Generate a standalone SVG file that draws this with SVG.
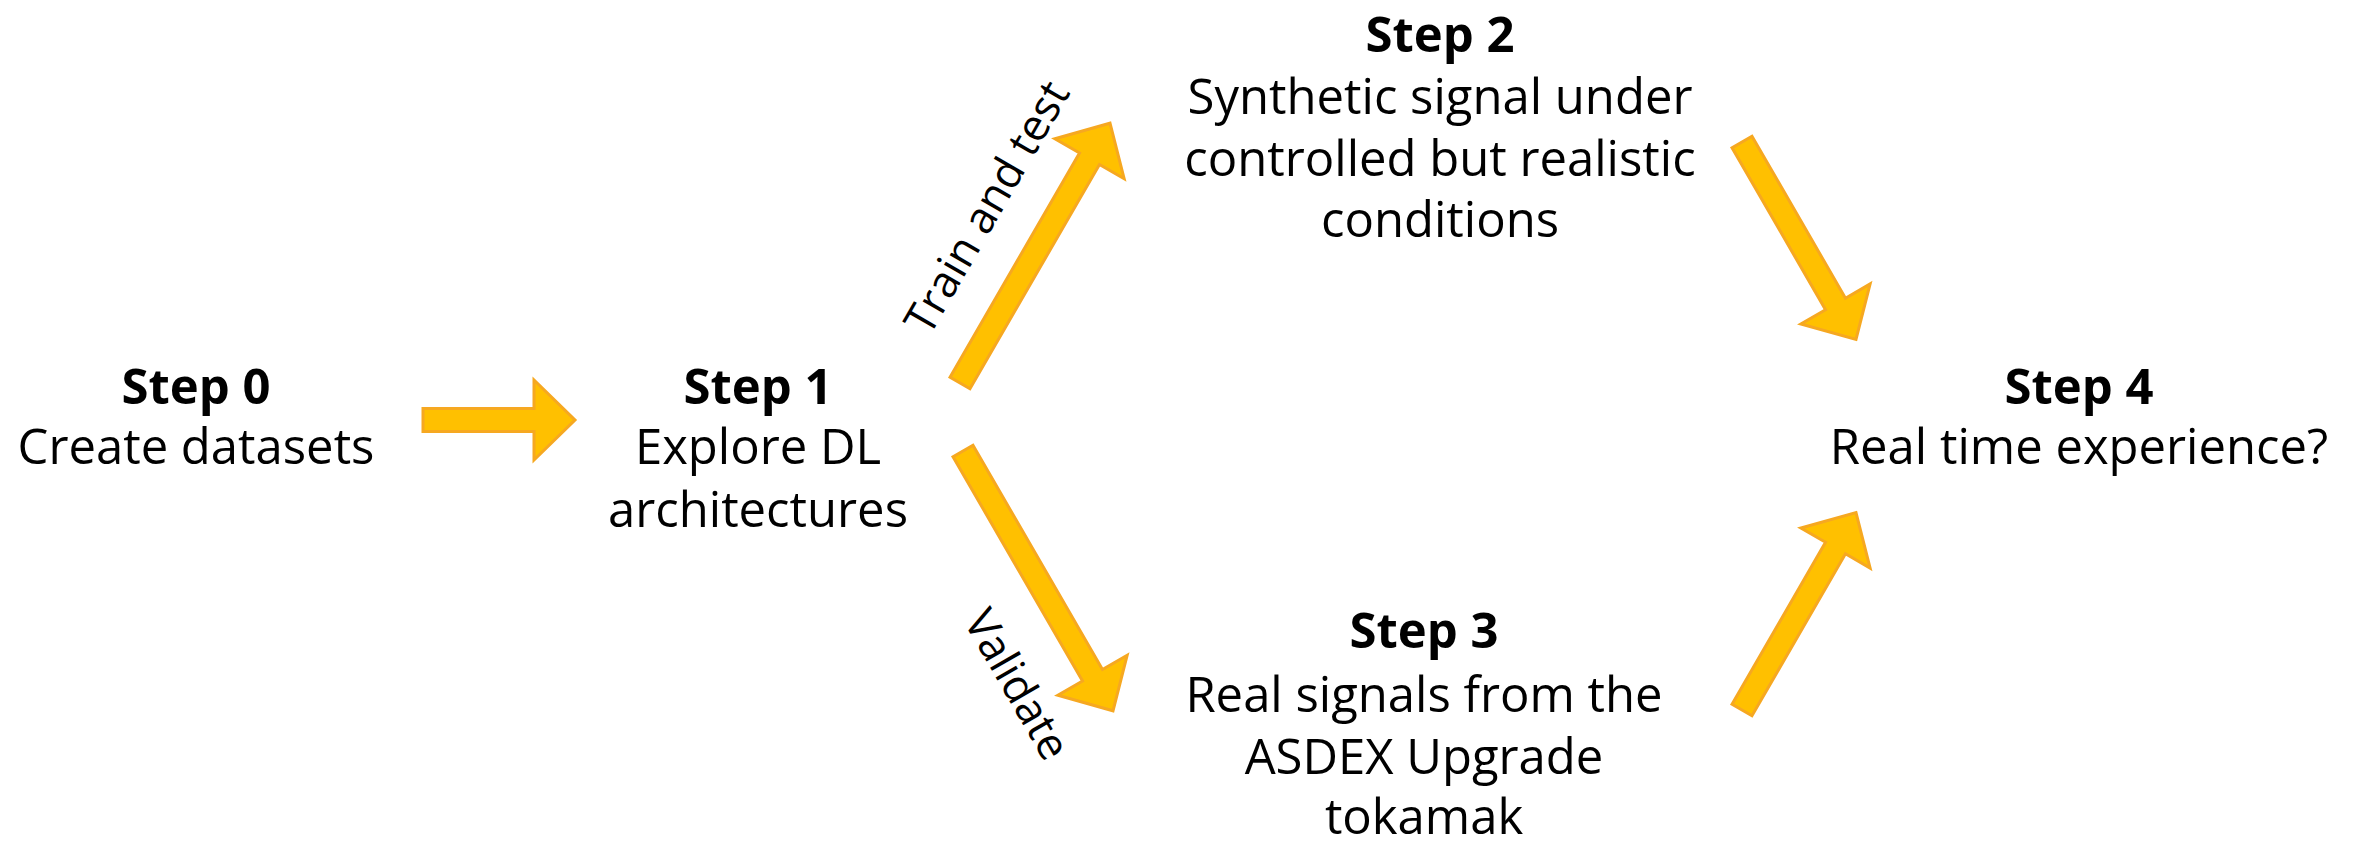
<svg xmlns="http://www.w3.org/2000/svg" width="2359" height="845" viewBox="0 0 2359 845">
<style>
.t{font-family:"Open Sans","Noto Sans","Liberation Sans",sans-serif;font-size:49px;fill:#000;text-anchor:middle}
.b{font-weight:bold;font-size:49px}
.lbl{font-family:"Open Sans","Noto Sans","Liberation Sans",sans-serif;font-size:44px;fill:#000;text-anchor:middle}
.arr{fill:#FFC000;stroke:#F6A821;stroke-width:3;stroke-linejoin:miter}
</style>
<rect width="2359" height="845" fill="#fff"/>
<g id="connectors">
<polygon class="arr" transform="translate(423,420)" points="0,-11.5 111,-11.5 111,-40 152,0 111,40 111,11.5 0,11.5"/>
<polygon class="arr" transform="translate(960,383) rotate(-60)" points="0,-11.5 259,-11.5 259,-40 300,0 259,40 259,11.5 0,11.5"/>
<polygon class="arr" transform="translate(963,451) rotate(60)" points="0,-11.5 259,-11.5 259,-40 300,0 259,40 259,11.5 0,11.5"/>
<polygon class="arr" transform="translate(1742,142) rotate(60)" points="0,-11.5 187,-11.5 187,-40 228,0 187,40 187,11.5 0,11.5"/>
<polygon class="arr" transform="translate(1742,710) rotate(-60)" points="0,-11.5 187,-11.5 187,-40 228,0 187,40 187,11.5 0,11.5"/>
<text class="lbl" transform="translate(1000,215) rotate(-60)">Train and test</text>
<text class="lbl" transform="translate(1004,692) rotate(60)">Validate</text>
</g>
<g id="step0">
<text class="t b" x="196" y="404">Step 0</text>
<text class="t" x="196" y="464">Create datasets</text>
</g>
<g id="step1">
<text class="t b" x="758" y="404">Step 1</text>
<text class="t" x="758" y="464">Explore DL</text>
<text class="t" x="758" y="527">architectures</text>
</g>
<g id="step2">
<text class="t b" x="1440" y="52">Step 2</text>
<text class="t" x="1440" y="114">Synthetic signal under</text>
<text class="t" x="1440" y="176">controlled but realistic</text>
<text class="t" x="1440" y="237">conditions</text>
</g>
<g id="step3">
<text class="t b" x="1424" y="648">Step 3</text>
<text class="t" x="1424" y="712">Real signals from the</text>
<text class="t" x="1424" y="774">ASDEX Upgrade</text>
<text class="t" x="1424" y="834">tokamak</text>
</g>
<g id="step4">
<text class="t b" x="2079" y="404">Step 4</text>
<text class="t" x="2079" y="464">Real time experience?</text>
</g>
</svg>
